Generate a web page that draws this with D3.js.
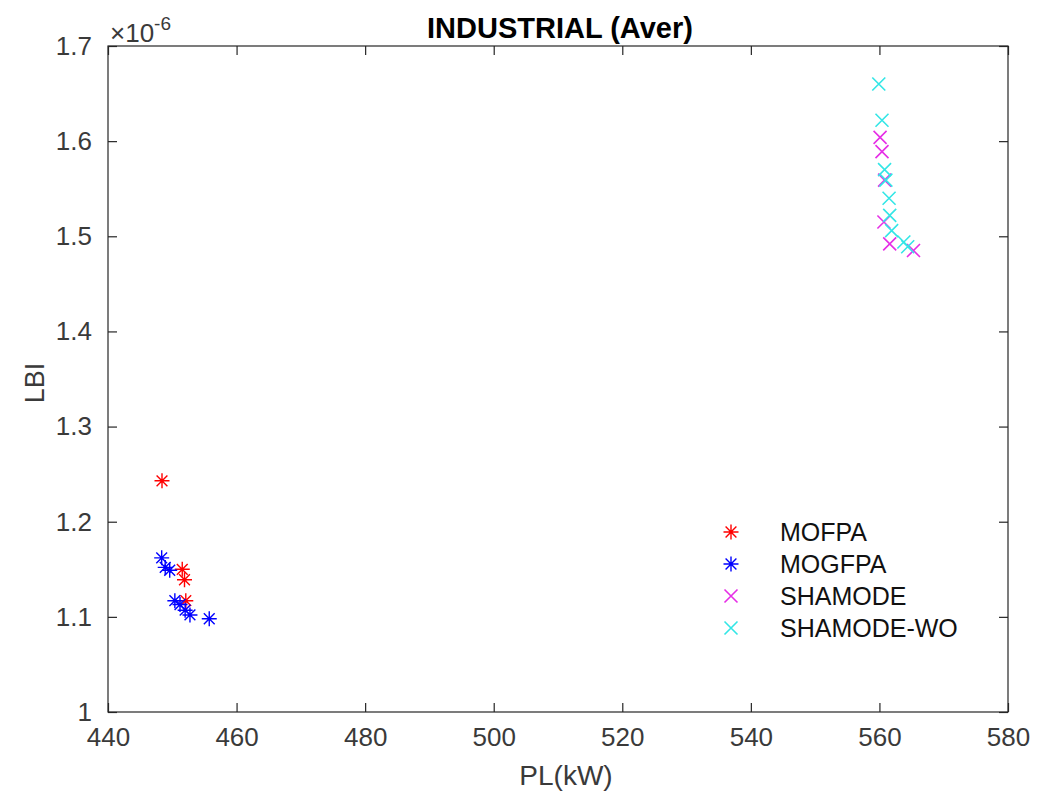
<!DOCTYPE html>
<html lang="en">
<head>
<meta charset="utf-8">
<title>INDUSTRIAL (Aver)</title>
<script src="https://d3js.org/d3.v7.min.js"></script>
<style>
  body { margin: 0; background: #fff; }
  text { font-family: "Liberation Sans", Arial, sans-serif; }
</style>
</head>
<body>
<script>
// values (LBI in units of 1e-6)
var mofpaPL  = [448.4, 451.55, 451.9, 452.1];
var mofpaLBI = [1.243, 1.150, 1.139, 1.117];

var mogfpaPL  = [448.35, 448.9, 449.6, 450.4, 451.2, 452.0, 452.75, 455.75];
var mogfpaLBI = [1.162, 1.152, 1.149, 1.117, 1.113, 1.107, 1.102, 1.098];

var shamodePL  = [560.1, 560.4, 560.8, 560.7, 561.6, 565.3];
var shamodeLBI = [1.604, 1.589, 1.559, 1.515, 1.492, 1.485];

var shamodeWoPL  = [559.9, 560.4, 560.8, 561.0, 561.5, 561.6, 561.9, 563.8, 564.4];
var shamodeWoLBI = [1.660, 1.622, 1.570, 1.559, 1.540, 1.522, 1.506, 1.494, 1.489];

var xTicks = [440, 460, 480, 500, 520, 540, 560, 580];
var yTicks = [1, 1.1, 1.2, 1.3, 1.4, 1.5, 1.6, 1.7];

var series = [
  {name: "MOFPA", x: mofpaPL, y: mofpaLBI, color: "#ff0000", shape: "star"},
  {name: "MOGFPA", x: mogfpaPL, y: mogfpaLBI, color: "#0000ff", shape: "star"},
  {name: "SHAMODE", x: shamodePL, y: shamodeLBI, color: "#e62ee6", shape: "cross"},
  {name: "SHAMODE-WO", x: shamodeWoPL, y: shamodeWoLBI, color: "#33e6e6", shape: "cross"}
];

var W = 1054, H = 801;
// plot box (note: "top" is a reserved window prop, so use pTop etc)
var pLeft = 108, pRight = 1008, pTop = 46, pBottom = 712;

var svg = d3.select("body").append("svg")
    .attr("width", W)
    .attr("height", H);

var x = d3.scaleLinear().domain([440, 580]).range([pLeft, pRight]);
var y = d3.scaleLinear().domain([1, 1.7]).range([pBottom, pTop]);

var axisColor = "#262626";
var tickLen = 9;

// box + ticks (matlab style, ticks inside on all sides)
svg.append("rect")
    .attr("x", pLeft).attr("y", pTop)
    .attr("width", pRight - pLeft).attr("height", pBottom - pTop)
    .attr("fill", "none").attr("stroke", axisColor).attr("stroke-width", 1.2);

var xb = svg.append("g").attr("transform", "translate(0," + pBottom + ")")
    .call(d3.axisBottom(x).tickValues(xTicks).tickSize(-tickLen).tickPadding(16).tickFormat(d3.format("d")));
var xt = svg.append("g").attr("transform", "translate(0," + pTop + ")")
    .call(d3.axisTop(x).tickValues(xTicks).tickSize(-tickLen).tickFormat(""));
var yl = svg.append("g").attr("transform", "translate(" + pLeft + ",0)")
    .call(d3.axisLeft(y).tickValues(yTicks).tickSize(-tickLen).tickPadding(16)
      .tickFormat(function(d) { return d === 1 ? "1" : d3.format(".1f")(d); }));
var yr = svg.append("g").attr("transform", "translate(" + pRight + ",0)")
    .call(d3.axisRight(y).tickValues(yTicks).tickSize(-tickLen).tickFormat(""));

[xb, xt, yl, yr].forEach(function(g) {
  g.select(".domain").remove();
  g.selectAll(".tick line").attr("stroke", axisColor).attr("stroke-width", 1.2);
  g.selectAll(".tick text").attr("fill", "#3a3a3a").style("font-size", "26px");
});
xb.selectAll(".tick text").attr("dy", "0.71em");

// title and labels
svg.append("text")
    .attr("x", 560).attr("y", 38)
    .attr("text-anchor", "middle")
    .style("font-size", "29px").style("font-weight", "bold")
    .attr("fill", "#000")
    .text("INDUSTRIAL (Aver)");

svg.append("text")
    .attr("x", 566).attr("y", 785)
    .attr("text-anchor", "middle")
    .style("font-size", "28px").attr("fill", "#3a3a3a")
    .text("PL(kW)");

svg.append("text")
    .attr("transform", "translate(44," + 383 + ") rotate(-90)")
    .attr("text-anchor", "middle")
    .style("font-size", "27px").attr("fill", "#3a3a3a")
    .text("LBI");

var mult = svg.append("text")
    .attr("x", pLeft + 2).attr("y", 42)
    .style("font-size", "26px").attr("fill", "#3a3a3a");
mult.append("tspan").text("\u00d710");
mult.append("tspan").attr("dy", -12).style("font-size", "19px").text("-6");

// markers
function drawMarker(g, shape, color) {
  if (shape === "star") {
    var r = 7.5;
    g.append("path")
      .attr("d", "M" + (-r) + ",0H" + r + "M0," + (-r) + "V" + r +
        "M" + (-r * 0.72) + "," + (-r * 0.72) + "L" + (r * 0.72) + "," + (r * 0.72) +
        "M" + (-r * 0.72) + "," + (r * 0.72) + "L" + (r * 0.72) + "," + (-r * 0.72))
      .attr("stroke", color).attr("stroke-width", 1.4).attr("fill", "none");
  } else {
    var s = 6.5;
    g.append("path")
      .attr("d", "M" + (-s) + "," + (-s) + "L" + s + "," + s + "M" + (-s) + "," + s + "L" + s + "," + (-s))
      .attr("stroke", color).attr("stroke-width", 1.6).attr("fill", "none");
  }
}

series.forEach(function(s) {
  var pts = s.x.map(function(v, i) { return [v, s.y[i]]; });
  svg.append("g").selectAll("g")
    .data(pts)
    .enter()
    .append("g")
      .attr("transform", function(d) { return "translate(" + x(d[0]) + "," + y(d[1]) + ")"; })
      .each(function() { drawMarker(d3.select(this), s.shape, s.color); });
});

// legend
var legend = svg.append("g");
series.forEach(function(s, i) {
  var row = legend.append("g").attr("transform", "translate(731," + (532 + i * 32) + ")");
  drawMarker(row, s.shape, s.color);
  row.append("text")
    .attr("x", 49).attr("y", 0).attr("dy", "0.35em")
    .style("font-size", "25px").attr("fill", "#111")
    .text(s.name);
});
</script>
</body>
</html>
